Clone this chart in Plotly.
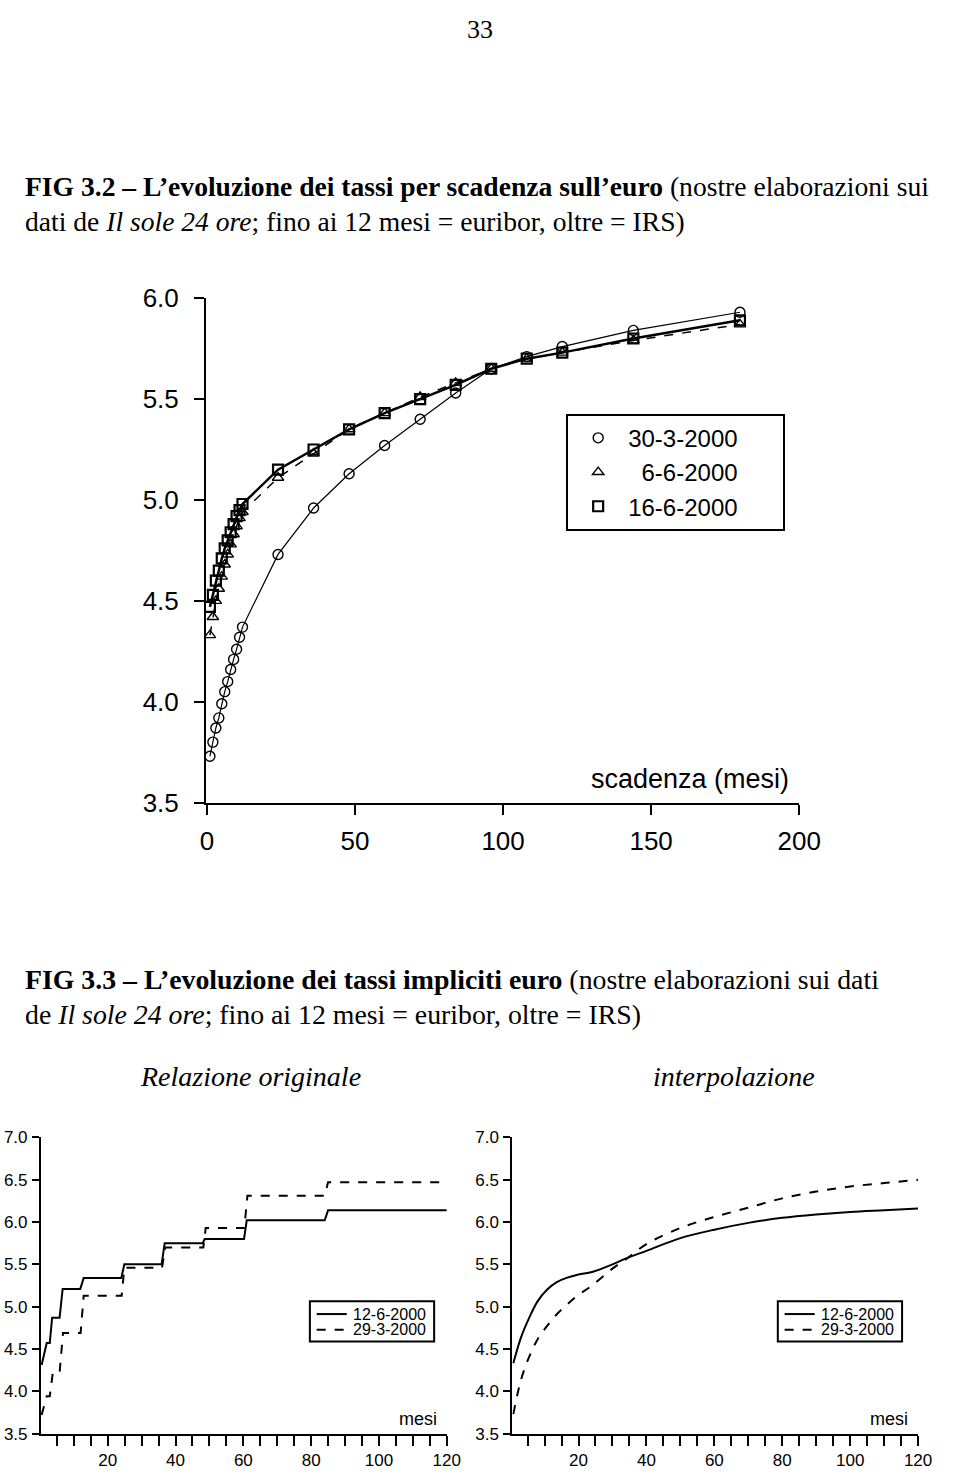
import plotly.graph_objects as go

W, H = 960, 1477

# ---------------- DATA ----------------
# FIG 3.2: rates by maturity (months)
maturity = [1, 2, 3, 4, 5, 6, 7, 8, 9, 10, 11, 12, 24, 36, 48, 60, 72, 84, 96, 108, 120, 144, 180]
rate_30_3 = [3.73, 3.80, 3.87, 3.92, 3.99, 4.05, 4.10, 4.16, 4.21, 4.26, 4.32, 4.37,
             4.73, 4.96, 5.13, 5.27, 5.40, 5.53, 5.65, 5.71, 5.76, 5.84, 5.93]
rate_6_6 = [4.33, 4.42, 4.50, 4.56, 4.62, 4.68, 4.73, 4.78, 4.83, 4.87, 4.91, 4.94,
            5.11, 5.23, 5.35, 5.43, 5.51, 5.58, 5.65, 5.70, 5.73, 5.79, 5.87]
rate_16_6 = [4.47, 4.53, 4.60, 4.65, 4.71, 4.76, 4.80, 4.84, 4.88, 4.92, 4.95, 4.98,
             5.15, 5.25, 5.35, 5.43, 5.50, 5.57, 5.65, 5.70, 5.73, 5.80, 5.89]

# FIG 3.3 left: implied rates, original relation (step profile vertices)
orig_12_6_m = [0.5, 2.0, 2.9, 3.6, 5.8, 6.7, 11.9, 12.9, 24.0, 24.9, 35.9, 36.8,
               48.0, 48.6, 60.2, 61.0, 84.0, 85.0, 120]
orig_12_6_v = [4.31, 4.57, 4.57, 4.87, 4.87, 5.21, 5.21, 5.34, 5.34, 5.50, 5.50, 5.75,
               5.75, 5.80, 5.80, 6.02, 6.02, 6.14, 6.14]
orig_29_3_m = [0.5, 2.0, 2.9, 3.8, 5.8, 6.8, 12.0, 12.9, 24.1, 24.9, 36.0, 37.0,
               48.2, 48.9, 60.3, 61.2, 84.0, 85.0, 120]
orig_29_3_v = [3.72, 3.94, 3.94, 4.22, 4.22, 4.69, 4.69, 5.13, 5.13, 5.46, 5.46, 5.70,
               5.70, 5.93, 5.93, 6.31, 6.31, 6.47, 6.47]

# FIG 3.3 right: interpolation
interp_m = [0.8, 3.1, 5.5, 7.9, 10.7, 13.6, 16.5, 20, 24, 30, 34, 40, 50, 60, 70, 80, 90, 100, 110, 120]
interp_12_6 = [4.33, 4.64, 4.87, 5.06, 5.20, 5.29, 5.34, 5.38, 5.41, 5.50, 5.57, 5.66,
               5.81, 5.91, 5.99, 6.05, 6.09, 6.12, 6.14, 6.16]
interp_29_3 = [3.73, 4.14, 4.41, 4.61, 4.77, 4.91, 5.02, 5.14, 5.25, 5.45, 5.56, 5.74,
               5.93, 6.06, 6.17, 6.28, 6.36, 6.42, 6.46, 6.50]

top_yticks = [3.5, 4.0, 4.5, 5.0, 5.5, 6.0]
top_xticks = [0, 50, 100, 150, 200]
bot_yticks = [3.5, 4.0, 4.5, 5.0, 5.5, 6.0, 6.5, 7.0]
bot_xticks = [20, 40, 60, 80, 100, 120]

# ---------------- helpers ----------------
def fx(px):
    return px / W

def fy(py):
    return 1 - py / H

SANS = "Liberation Sans, Arial, sans-serif"
SERIF = "Liberation Serif, Times New Roman, serif"
NB = "\u00a0"

fig = go.Figure()

top_series = [
    ("30-3-2000", rate_30_3, dict(color="black", width=1.2), "circle-open", 10, 1.4, ""),
    ("6-6-2000", rate_6_6, dict(color="black", width=1.5, dash="dash"), "triangle-up-open", 10, 1.4, NB * 2),
    ("16-6-2000", rate_16_6, dict(color="black", width=2.5), "square-open", 10, 2.2, ""),
]
# lines (not in legend)
for name, vals, line, sym, size, mlw, pad in top_series:
    fig.add_trace(go.Scatter(x=maturity, y=vals, mode="lines", name=name, line=line,
                             showlegend=False, xaxis="x", yaxis="y"))
# markers (legend shows the symbol only)
for name, vals, line, sym, size, mlw, pad in top_series:
    fig.add_trace(go.Scatter(x=maturity, y=vals, mode="markers", name=pad + name + NB * 6,
                             marker=dict(symbol=sym, size=size, color="black",
                                         line=dict(width=mlw, color="black")),
                             xaxis="x", yaxis="y", legend="legend"))

# bottom left: original relation
fig.add_trace(go.Scatter(x=orig_12_6_m, y=orig_12_6_v, mode="lines", name="12-6-2000",
                         line=dict(color="black", width=2), showlegend=False, xaxis="x2", yaxis="y2"))
fig.add_trace(go.Scatter(x=orig_29_3_m, y=orig_29_3_v, mode="lines", name="29-3-2000",
                         line=dict(color="black", width=2, dash="dash"), showlegend=False,
                         xaxis="x2", yaxis="y2"))
# bottom right: interpolation
fig.add_trace(go.Scatter(x=interp_m, y=interp_12_6, mode="lines", name="12-6-2000",
                         line=dict(color="black", width=2, shape="spline", smoothing=1.0),
                         showlegend=False, xaxis="x3", yaxis="y3"))
fig.add_trace(go.Scatter(x=interp_m, y=interp_29_3, mode="lines", name="29-3-2000",
                         line=dict(color="black", width=2, dash="dash", shape="spline", smoothing=1.0),
                         showlegend=False, xaxis="x3", yaxis="y3"))

axis_common = dict(showline=True, linecolor="black", linewidth=2, ticks="outside",
                   tickcolor="black", tickwidth=2, showgrid=False, zeroline=False, mirror=False)

fig.update_layout(
    width=W, height=H, margin=dict(l=0, r=0, t=0, b=0),
    paper_bgcolor="white", plot_bgcolor="rgba(0,0,0,0)",
    showlegend=True,
    xaxis=dict(**axis_common, domain=[fx(206), fx(817)], range=[-0.33, 200],
               tickvals=top_xticks, ticklen=10, ticklabelstandoff=4,
               tickfont=dict(family=SANS, size=26, color="black"), anchor="y"),
    yaxis=dict(**axis_common, domain=[fy(804), fy(289)], range=[3.5, 6.0],
               tickvals=top_yticks, tickformat=".1f", ticklen=10, ticklabelstandoff=10,
               tickfont=dict(family=SANS, size=26, color="black"), anchor="x"),
    xaxis2=dict(**axis_common, domain=[fx(36), fx(454)], range=[0.3, 120],
                tickvals=bot_xticks, ticklen=10,
                minor=dict(dtick=5, tick0=0, ticklen=10, tickwidth=2, tickcolor="black", ticks="outside"),
                tickfont=dict(family=SANS, size=17, color="black"), anchor="y2"),
    yaxis2=dict(**axis_common, domain=[fy(1448), fy(1145.7)], range=[3.5, 7.0],
                tickvals=bot_yticks, tickformat=".1f", ticklen=7, ticklabelstandoff=1,
                tickfont=dict(family=SANS, size=17, color="black"), anchor="x2"),
    xaxis3=dict(**axis_common, domain=[fx(521.5), fx(939.5)], range=[0.5, 120],
                tickvals=bot_xticks, ticklen=10,
                minor=dict(dtick=5, tick0=0, ticklen=10, tickwidth=2, tickcolor="black", ticks="outside"),
                tickfont=dict(family=SANS, size=17, color="black"), anchor="y3"),
    yaxis3=dict(**axis_common, domain=[fy(1448), fy(1145.7)], range=[3.5, 7.0],
                tickvals=bot_yticks, tickformat=".1f", ticklen=7, ticklabelstandoff=1,
                tickfont=dict(family=SANS, size=17, color="black"), anchor="x3"),
    legend=dict(x=fx(577), y=fy(407), xanchor="left", yanchor="top",
                bgcolor="white", bordercolor="black", borderwidth=2,
                itemwidth=50, font=dict(family=SANS, size=24, color="black"),
                traceorder="normal"),
)

ann = []
# page number
ann.append(dict(text="33", x=fx(488), y=fy(15), xref="paper", yref="paper",
                showarrow=False, font=dict(family=SERIF, size=26, color="black"),
                xanchor="center", yanchor="middle"))
# FIG 3.2 caption
ann.append(dict(text="<b>FIG 3.2 \u2013 L\u2019evoluzione dei tassi per scadenza sull\u2019euro</b> (nostre elaborazioni sui",
                x=fx(17), y=fy(175), xref="paper", yref="paper", showarrow=False,
                xanchor="left", yanchor="middle", font=dict(family=SERIF, size=27.6, color="black")))
ann.append(dict(text="dati de <i>Il sole 24 ore</i>; fino ai 12 mesi = euribor, oltre = IRS)",
                x=fx(17), y=fy(211), xref="paper", yref="paper", showarrow=False,
                xanchor="left", yanchor="middle", font=dict(family=SERIF, size=27.6, color="black")))
# top chart axis title
ann.append(dict(text="scadenza (mesi)", x=fx(809), y=fy(780), xref="paper", yref="paper",
                showarrow=False, xanchor="right", yanchor="middle",
                font=dict(family=SANS, size=27, color="black")))
# FIG 3.3 caption
ann.append(dict(text="<b>FIG 3.3 \u2013 L\u2019evoluzione dei tassi impliciti euro</b> (nostre elaborazioni sui dati",
                x=fx(17), y=fy(985), xref="paper", yref="paper", showarrow=False,
                xanchor="left", yanchor="middle", font=dict(family=SERIF, size=27.8, color="black")))
ann.append(dict(text="de <i>Il sole 24 ore</i>; fino ai 12 mesi = euribor, oltre = IRS)",
                x=fx(17), y=fy(1020), xref="paper", yref="paper", showarrow=False,
                xanchor="left", yanchor="middle", font=dict(family=SERIF, size=27.8, color="black")))
ann.append(dict(text="<i>Relazione originale</i>", x=fx(252), y=fy(1083), xref="paper", yref="paper",
                showarrow=False, xanchor="center", yanchor="middle",
                font=dict(family=SERIF, size=28, color="black")))
ann.append(dict(text="<i>interpolazione</i>", x=fx(750), y=fy(1083), xref="paper", yref="paper",
                showarrow=False, xanchor="center", yanchor="middle",
                font=dict(family=SERIF, size=28, color="black")))
# "mesi" labels
ann.append(dict(text="mesi", x=fx(446), y=fy(1433), xref="paper", yref="paper", showarrow=False,
                xanchor="right", yanchor="middle", font=dict(family=SANS, size=18, color="black")))
ann.append(dict(text="mesi", x=fx(931), y=fy(1433), xref="paper", yref="paper", showarrow=False,
                xanchor="right", yanchor="middle", font=dict(family=SANS, size=18, color="black")))

shapes = []
# bottom legends (box, line samples, labels)
for left in (313, 795):
    shapes.append(dict(type="rect", xref="paper", yref="paper",
                       x0=fx(left), x1=fx(left + 128), y0=fy(1354), y1=fy(1313),
                       line=dict(color="black", width=2), fillcolor="white", layer="above"))
    shapes.append(dict(type="line", xref="paper", yref="paper",
                       x0=fx(left + 7), x1=fx(left + 38), y0=fy(1326), y1=fy(1326),
                       line=dict(color="black", width=2)))
    shapes.append(dict(type="line", xref="paper", yref="paper",
                       x0=fx(left + 7), x1=fx(left + 38), y0=fy(1342), y1=fy(1342),
                       line=dict(color="black", width=2, dash="dash")))
    ann.append(dict(text="12-6-2000", x=fx(left + 42), y=fy(1326), xref="paper", yref="paper",
                    showarrow=False, xanchor="left", yanchor="middle",
                    font=dict(family=SANS, size=16, color="black")))
    ann.append(dict(text="29-3-2000", x=fx(left + 42), y=fy(1342), xref="paper", yref="paper",
                    showarrow=False, xanchor="left", yanchor="middle",
                    font=dict(family=SANS, size=16, color="black")))

fig.update_layout(annotations=ann, shapes=shapes)

fig.write_html("out.html")
